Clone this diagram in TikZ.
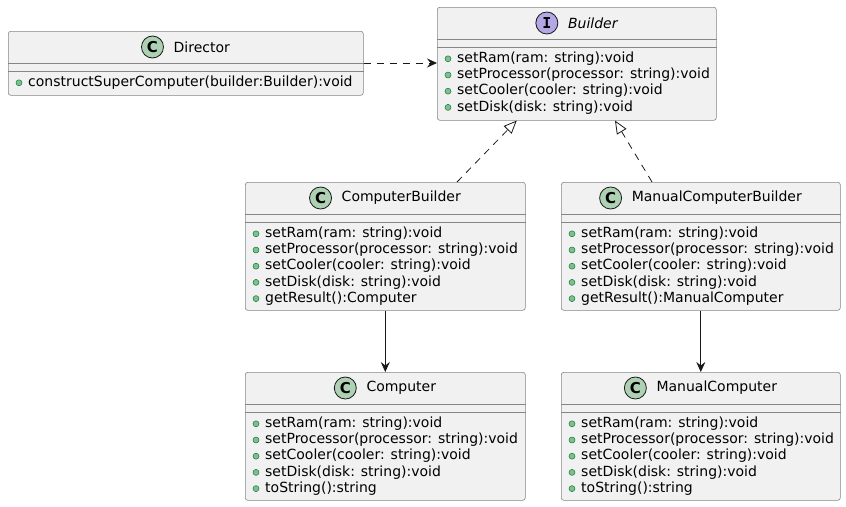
\documentclass[tikz,border=0pt]{standalone}
\usepackage{fontspec}
\setmainfont{DejaVu Sans}
\newfontfamily\iconfont{DejaVu Sans Mono}
\usetikzlibrary{arrows.meta}
\definecolor{boxfill}{HTML}{F1F1F1}
\definecolor{ink}{HTML}{181818}
\definecolor{boxline}{HTML}{858585}
\definecolor{cgreen}{HTML}{ADD1B2}
\definecolor{ipurple}{HTML}{B4A7E5}
\definecolor{bulfill}{HTML}{84BE84}
\definecolor{buldraw}{HTML}{038048}
\tikzset{
  classbox/.style={draw=boxline, line width=0.6pt, fill=boxfill, rounded corners=2.5pt, inner sep=0pt, rectangle},
  sepline/.style={draw=boxline, line width=0.6pt},
  titletext/.style={inner sep=0pt, font=\fontsize{14}{16}\selectfont, text=black},
  icon/.style={circle, draw=ink, line width=0.8pt, minimum size=22pt, inner sep=0pt, text=black},
  iconC/.style={icon, fill=cgreen, node contents={\fontsize{15}{15}\selectfont\bfseries C}},
  iconI/.style={icon, fill=ipurple, node contents={\iconfont\fontsize{15}{15}\selectfont\bfseries I}},
  member/.style={anchor=west, inner sep=0pt, text height=10.2pt, text depth=2.9pt, font=\fontsize{14}{16}\selectfont, text=black},
  bullet/.style={circle, fill=bulfill, draw=buldraw, line width=0.5pt, minimum size=6pt, inner sep=0pt},
  dep/.style={draw=ink, line width=0.8pt, dash pattern=on 7pt off 6pt, -{Stealth[length=10pt,width=9pt,inset=3.5pt]}},
  real/.style={draw=ink, line width=0.8pt, dash pattern=on 7pt off 6pt, -{Triangle[open,length=13pt,width=11pt,fill=white]}},
  assoc/.style={draw=ink, line width=0.8pt, -{Stealth[length=10pt,width=9pt,inset=3.5pt]}}
}
\newcommand{\umlclass}[7]{%
  \node[classbox, minimum width=#4pt, minimum height=#5pt, anchor=north west] (#1) at (#2,#3) {};
  \draw[sepline] ([yshift=-32pt]#1.north west) -- ([yshift=-32pt]#1.north east);
  \draw[sepline] ([yshift=-40.3pt]#1.north west) -- ([yshift=-40.3pt]#1.north east);
  \node[titletext] (#1-t) at ([xshift=16pt,yshift=-16pt]#1.north) {#7};
  \node (#1-i) at ([xshift=-21pt]#1-t.west) [#6];
}
\newcommand{\umlmembers}[2]{%
  \foreach \m [count=\i] in {#2} {
    \node[bullet] (#1-b\i) at ([xshift=11pt,yshift={-51.8pt-(\i-1)*16.2pt}]#1.north west) {};
    \node[member] (#1-m\i) at ([xshift=20pt,yshift={-51.8pt-(\i-1)*16.2pt}]#1.north west) {\m};
  }
}
\begin{document}
\begin{tikzpicture}[x=1pt,y=-1pt]
\useasboundingbox (0,0) rectangle (846,506);
\umlclass{dir}{8}{31}{355}{64}{iconC}{Director}
\umlmembers{dir}{constructSuperComputer(builder:Builder):void}
\umlclass{b}{437}{7}{279}{113}{iconI}{\itshape Builder}
\umlmembers{b}{setRam(ram: string):void, setProcessor(processor: string):void, setCooler(cooler: string):void, setDisk(disk: string):void}
\umlclass{cb}{245}{182}{280}{128}{iconC}{ComputerBuilder}
\umlmembers{cb}{setRam(ram: string):void, setProcessor(processor: string):void, setCooler(cooler: string):void, setDisk(disk: string):void, getResult():Computer}
\umlclass{mcb}{561}{182}{279}{128}{iconC}{ManualComputerBuilder}
\umlmembers{mcb}{setRam(ram: string):void, setProcessor(processor: string):void, setCooler(cooler: string):void, setDisk(disk: string):void, getResult():ManualComputer}
\umlclass{c}{245}{372}{280}{128}{iconC}{Computer}
\umlmembers{c}{setRam(ram: string):void, setProcessor(processor: string):void, setCooler(cooler: string):void, setDisk(disk: string):void, toString():string}
\umlclass{mc}{561}{372}{279}{128}{iconC}{ManualComputer}
\umlmembers{mc}{setRam(ram: string):void, setProcessor(processor: string):void, setCooler(cooler: string):void, setDisk(disk: string):void, toString():string}
\draw[dep] ([yshift=-32pt]dir.north east) -- ([yshift=-56pt]b.north west);
\draw[real] ([xshift=212pt]cb.north west) -- ([xshift=79.7pt]b.south west);
\draw[real] ([xshift=91pt]mcb.north west) -- ([xshift=178pt]b.south west);
\draw[assoc] (cb.south) -- (c.north);
\draw[assoc] (mcb.south) -- (mc.north);
\end{tikzpicture}
\end{document}
